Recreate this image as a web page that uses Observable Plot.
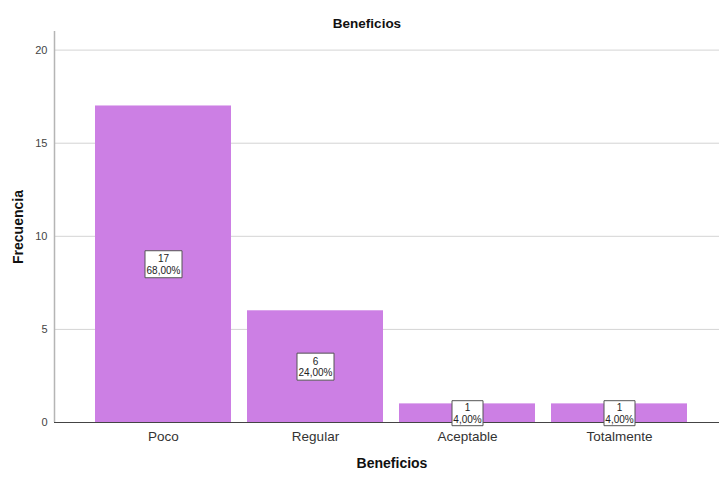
<!DOCTYPE html>
<html>
<head>
<meta charset="utf-8">
<script src="https://cdn.jsdelivr.net/npm/d3@7"></script>
<script src="https://cdn.jsdelivr.net/npm/@observablehq/plot@0.6"></script>
<style>
  html, body { margin: 0; padding: 0; background: #fff; }
  svg { display: block; font-family: "Liberation Sans", Arial, sans-serif; }
</style>
</head>
<body>
<div id="chart"></div>
<script>
const categories = ["Poco", "Regular", "Aceptable", "Totalmente"];
const frequencies = [17, 6, 1, 1];
const percents = ["68,00%", "24,00%", "4,00%", "4,00%"];
const yTicks = [0, 5, 10, 15, 20];
const chartTitle = "Beneficios";
const xLabel = "Beneficios";
const yLabel = "Frecuencia";

const data = categories.map((c, i) => ({cat: c, f: frequencies[i], pct: percents[i]}));

function boxSymbol(w, h) {
  return {draw(ctx) { ctx.rect(-w / 2, -h / 2, w, h); }};
}
// group labels by box width (depends on label length)
const widths = [...new Set(data.map(d => d.pct.length))];
const boxMarks = widths.map(len => Plot.dot(data.filter(d => d.pct.length === len), {
  x: "cat", y: d => d.f / 2, symbol: boxSymbol(len * 6 + 1, len === 6 ? 27 : 25),
  r: 10, fill: "white", stroke: "#555", strokeWidth: 1, strokeLinejoin: "miter"
}));

const W = 719, H = 477, ML = 54, MR = 0;
const plot = Plot.plot({
  width: W, height: H,
  marginLeft: ML, marginRight: MR, marginTop: 31, marginBottom: 55,
  style: {fontFamily: "'Liberation Sans', Arial, sans-serif", background: "white"},
  x: {domain: categories, range: [54, 729], paddingInner: 0.105, paddingOuter: 0.27, align: 0.5},
  y: {domain: [0, 21]},
  marks: [
    Plot.gridY(yTicks, {stroke: "#d4d4d4", strokeOpacity: 1, strokeWidth: 1}),
    Plot.barY(data, {x: "cat", y: "f", fill: "#cc7fe4"}),
    Plot.ruleY([0], {stroke: "#444", strokeWidth: 1}),
    Plot.ruleX([0], {x: null, y1: 0, y2: 21, dx: ML - (ML + W - MR) / 2, stroke: "#b5b5b5", strokeWidth: 1.5}),
    ...boxMarks,
    Plot.text(data, {x: "cat", y: d => d.f / 2, text: d => `${d.f}\n${d.pct}`, fontSize: 10, lineHeight: 1.15, fill: "#222"}),
    Plot.axisY(yTicks, {tickSize: 0, tickPadding: 7, fontSize: 11, color: "#444", label: null}),
    Plot.axisX({tickSize: 0, tickPadding: 9, fontSize: 13.5, color: "#333", label: null}),
    Plot.text([chartTitle], {frameAnchor: "top", dy: -13, dx: -20, fontSize: 13.5, fontWeight: "bold", fill: "#111"}),
    Plot.text([xLabel], {frameAnchor: "bottom", dy: 45, dx: 5, fontSize: 14, fontWeight: "bold", fill: "#111"}),
    Plot.text([yLabel], {frameAnchor: "left", textAnchor: "middle", dx: -36, rotate: -90, fontSize: 14, fontWeight: "bold", fill: "#111"})
  ]
});
document.getElementById("chart").appendChild(plot);
</script>
</body>
</html>
